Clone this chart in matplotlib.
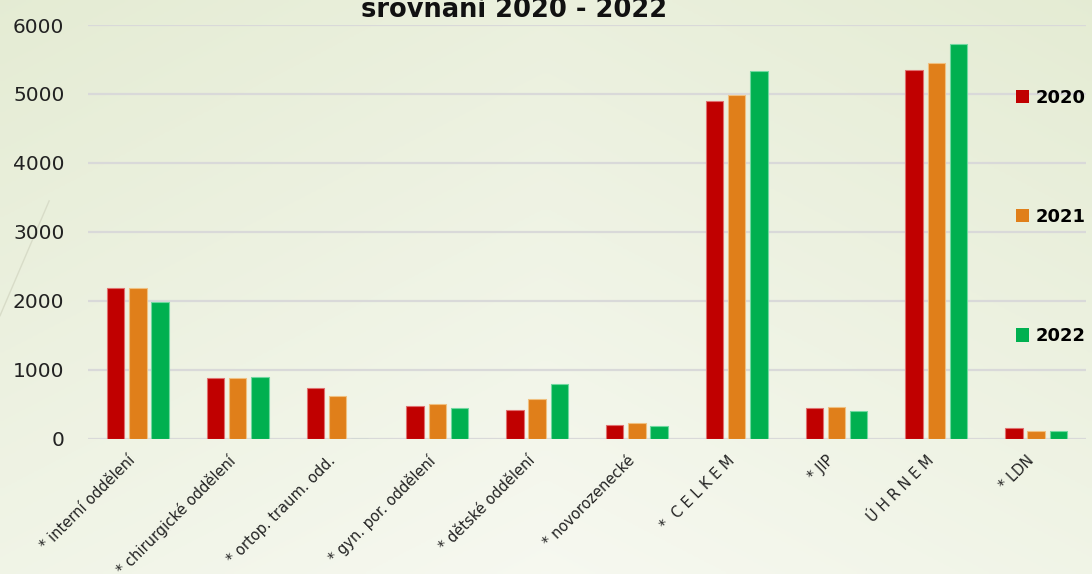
import numpy as np
import matplotlib
matplotlib.use("Agg")
import matplotlib.pyplot as plt
import matplotlib.transforms as mtransforms
from matplotlib.patches import Patch

categories = ["* interní oddělení", "* chirurgické oddělení", "* ortop. traum. odd.",
              "* gyn. por. oddělení", "* dětské oddělení", "* novorozenecké",
              "*  C E L K E M", "* JIP", "Ú H R N E M", "* LDN"]
years = ["2020", "2021", "2022"]
v2020 = [2192, 877, 736, 475, 412, 194, 4898, 441, 5341, 155]
v2021 = [2187, 885, 615, 504, 572, 228, 4984, 456, 5443, 107]
v2022 = [1984, 895, 0, 446, 794, 180, 5332, 398, 5729, 116]
colors = ["#C00000", "#E07F1A", "#00B050"]
edges = ["#e07070", "#f0c080", "#70d8a0"]
yticks = [0, 1000, 2000, 3000, 4000, 5000, 6000]
title = "srovnání 2020 - 2022"

plt.rcParams['font.family'] = ['DejaVu Sans']

fig = plt.figure(figsize=(10.92, 5.74), dpi=100)

# gradient background
bg = fig.add_axes([0, 0, 1, 1], zorder=-10)
yy, xx = np.mgrid[0:1:200j, 0:1:200j]
t = np.clip(0.55 * yy + 0.45 * np.abs(xx - 0.5) * 2 * 0.6 + 0.1, 0, 1)
c1 = np.array([0.975, 0.98, 0.955])
c2 = np.array([0.89, 0.92, 0.82])
img = c1[None, None, :] * (1 - t[..., None]) + c2[None, None, :] * t[..., None]
bg.imshow(img, origin='lower', extent=[0, 1, 0, 1], aspect='auto')
bg.plot([0.0, 0.045], [0.45, 0.65], color='#d8dcc8', lw=1)
bg.set_xlim(0, 1); bg.set_ylim(0, 1)
bg.axis('off')

ax = fig.add_axes([0.0806, 0.2357, 0.9139, 0.7207])
ax.set_facecolor('none')
x = np.arange(len(categories))
slot = 0.222
bw = 0.174
for i, (vals, c, e) in enumerate(zip([v2020, v2021, v2022], colors, edges)):
    ax.bar(x + (i - 1) * slot, vals, width=bw, color=c, edgecolor=e, linewidth=0.8,
           zorder=3, label=years[i])

ax.set_xlim(-0.5, len(categories) - 0.5)
ax.set_ylim(0, 6000)
ax.set_yticks(yticks)
ax.set_yticklabels([str(v) for v in yticks], fontsize=14.5, color='#222222')
ax.tick_params(axis='y', length=0, pad=17)
ax.yaxis.grid(True, color='#d9d9d9', linewidth=1.6, zorder=0)
ax.set_axisbelow(True)
for s in ax.spines.values():
    s.set_visible(False)
ax.set_xticks(x)
ax.set_xticklabels(categories, rotation=45, ha='right', va='top',
                   rotation_mode='anchor', fontsize=10.5, color='#222222')
ax.tick_params(axis='x', length=0, pad=10)
offset = mtransforms.ScaledTranslation(-10 / 100, 0, fig.dpi_scale_trans)
for lbl in ax.get_xticklabels():
    lbl.set_transform(lbl.get_transform() + offset)

fig.text(0.471, 1 - 17 / 574, title, ha='center', va='baseline',
         fontsize=18.5, fontweight='bold', color='#111111')

handles = [Patch(facecolor=c, edgecolor='none') for c in colors]
leg = fig.legend(handles, years, loc='upper left', bbox_to_anchor=(0.930, 0.845),
                 frameon=False, labelspacing=5.6, handlelength=0.75, handleheight=0.75,
                 handletextpad=0.35, borderpad=0, borderaxespad=0,
                 prop={'size': 13, 'weight': 'bold'})

fig.savefig("out.png", dpi=100)
